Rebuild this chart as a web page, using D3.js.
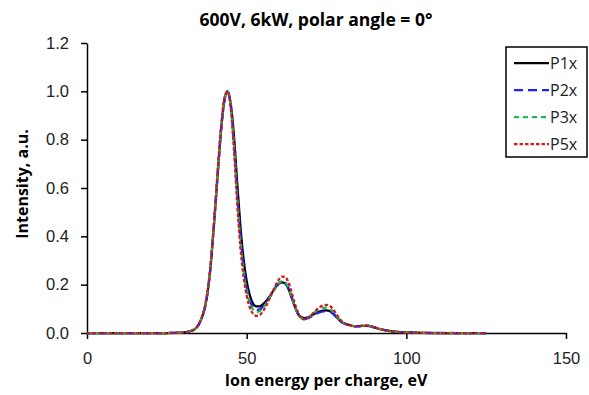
<!DOCTYPE html>
<html>
<head>
<meta charset="utf-8">
<script src="https://cdn.jsdelivr.net/npm/d3@7"></script>
<style>
  body { margin: 0; background: #fff; }
  svg { display: block; font-family: "Open Sans", "Liberation Sans", sans-serif; }
  .axis path, .axis line { stroke: #000; stroke-width: 1.5; }
  .axis text { font-size: 16.5px; fill: #222; }
</style>
</head>
<body>
<div id="chart"></div>
<script>
// énergies (eV) communes aux 4 séries
const energy = [0, 10, 20, 25, 30, 32, 34,
  35, 36, 37, 38, 39, 40, 41, 42, 43, 44, 45, 46, 47, 48, 49, 50, 51, 52, 53, 54, 55, 56, 57, 58, 59,
  60, 61, 62, 63, 64, 65, 66, 67, 68, 69, 70, 71, 72, 73, 74, 75, 76, 77, 78, 79, 80,
  82, 84, 86, 88, 90, 92, 94, 96, 98, 100, 105, 110, 115, 120, 125];

const p1x = [0, 0, 0, 0, 0.002, 0.006, 0.018,
  0.035, 0.065, 0.11, 0.19, 0.32, 0.49, 0.67, 0.84, 0.96, 1.0, 0.95, 0.82, 0.63, 0.45, 0.31, 0.215, 0.155, 0.122, 0.11, 0.11, 0.118, 0.13, 0.148, 0.168, 0.188,
  0.203, 0.21, 0.205, 0.185, 0.15, 0.112, 0.082, 0.066, 0.062, 0.064, 0.07, 0.078, 0.085, 0.09, 0.093, 0.094, 0.091, 0.082, 0.068, 0.054, 0.043,
  0.034, 0.028, 0.029, 0.03, 0.023, 0.015, 0.01, 0.006, 0.004, 0.003, 0.001, 0, 0, 0, 0];

const p2x = [0, 0, 0, 0, 0.002, 0.006, 0.018,
  0.035, 0.065, 0.11, 0.19, 0.32, 0.49, 0.67, 0.84, 0.96, 1.0, 0.94, 0.79, 0.59, 0.41, 0.28, 0.19, 0.135, 0.105, 0.095, 0.097, 0.108, 0.124, 0.144, 0.166, 0.188,
  0.205, 0.213, 0.208, 0.188, 0.152, 0.112, 0.08, 0.063, 0.058, 0.06, 0.066, 0.074, 0.081, 0.086, 0.089, 0.09, 0.088, 0.08, 0.067, 0.053, 0.042,
  0.033, 0.027, 0.028, 0.029, 0.022, 0.015, 0.01, 0.006, 0.004, 0.003, 0.001, 0.0005, 0, 0, 0];

const p3x = [0, 0, 0, 0, 0.002, 0.006, 0.018,
  0.036, 0.066, 0.112, 0.195, 0.325, 0.495, 0.68, 0.85, 0.965, 1.0, 0.94, 0.78, 0.57, 0.39, 0.26, 0.175, 0.125, 0.097, 0.087, 0.09, 0.102, 0.12, 0.142, 0.165, 0.188,
  0.206, 0.215, 0.21, 0.19, 0.155, 0.113, 0.08, 0.062, 0.058, 0.062, 0.071, 0.082, 0.093, 0.1, 0.104, 0.105, 0.101, 0.09, 0.073, 0.057, 0.045,
  0.034, 0.028, 0.03, 0.031, 0.023, 0.015, 0.01, 0.006, 0.004, 0.003, 0.001, 0, 0, 0, 0];

const p5x = [0, 0, 0, 0, 0.002, 0.006, 0.019,
  0.037, 0.068, 0.115, 0.2, 0.33, 0.5, 0.69, 0.86, 0.97, 1.0, 0.93, 0.76, 0.54, 0.36, 0.235, 0.155, 0.105, 0.08, 0.071, 0.074, 0.088, 0.11, 0.137, 0.167, 0.196,
  0.22, 0.233, 0.232, 0.212, 0.172, 0.125, 0.087, 0.064, 0.056, 0.06, 0.071, 0.085, 0.098, 0.108, 0.114, 0.116, 0.112, 0.1, 0.081, 0.061, 0.046,
  0.033, 0.027, 0.03, 0.032, 0.023, 0.015, 0.01, 0.006, 0.004, 0.002, 0.001, 0, 0, 0, 0];

const seriesNames = ["P1x", "P2x", "P3x", "P5x"];
const seriesColors = ["#000000", "#1f1fff", "#1db954", "#d01c1c"];
const seriesDash = [null, "9,5", "5,4", "3.5,2"];
const xTicks = [0, 50, 100, 150];
const yTicks = [0, 0.2, 0.4, 0.6, 0.8, 1.0, 1.2];

const W = 589, H = 395;
const margin = { top: 43, right: 23, bottom: 62, left: 87 };
const width = W - margin.left - margin.right;
const height = H - margin.top - margin.bottom;

const svg = d3.select("#chart").append("svg")
  .attr("width", W)
  .attr("height", H);

const g = svg.append("g")
  .attr("transform", `translate(${margin.left},${margin.top})`);

const x = d3.scaleLinear().domain([0, 150]).range([0, width]);
const y = d3.scaleLinear().domain([0, 1.2]).range([height, 0]);

// axes
g.append("g")
  .attr("class", "axis")
  .attr("transform", `translate(0,${height})`)
  .call(d3.axisBottom(x).tickValues(xTicks).tickSize(6).tickSizeOuter(0).tickPadding(13));

g.append("g")
  .attr("class", "axis")
  .call(d3.axisLeft(y).tickValues(yTicks).tickFormat(d3.format(".1f")).tickSize(6).tickSizeOuter(0).tickPadding(12));

g.selectAll(".axis .domain").attr("stroke-width", 2);

// séries
const series = [p1x, p2x, p3x, p5x].map((vals, i) => ({
  name: seriesNames[i],
  color: seriesColors[i],
  dash: seriesDash[i],
  values: energy.map((e, j) => ({ e, v: vals[j] }))
}));

const line = d3.line()
  .x(d => x(d.e))
  .y(d => y(d.v))
  .curve(d3.curveMonotoneX);

series.forEach(s => {
  g.append("path")
    .datum(s.values)
    .attr("fill", "none")
    .attr("stroke", s.color)
    .attr("stroke-width", 2.25)
    .attr("stroke-dasharray", s.dash)
    .attr("d", line);
});

// titre
svg.append("text")
  .attr("x", 316)
  .attr("y", 26)
  .attr("text-anchor", "middle")
  .attr("font-size", "17.5px")
  .attr("font-weight", "bold")
  .attr("fill", "#000")
  .text("600V, 6kW, polar angle = 0°");

svg.append("text")
  .attr("x", 326)
  .attr("y", 386)
  .attr("text-anchor", "middle")
  .attr("font-size", "16px")
  .attr("font-weight", "bold")
  .attr("fill", "#000")
  .text("Ion energy per charge, eV");

svg.append("text")
  .attr("transform", `translate(28,184) rotate(-90)`)
  .attr("text-anchor", "middle")
  .attr("font-size", "16px")
  .attr("font-weight", "bold")
  .attr("fill", "#000")
  .text("Intensity, a.u.");

// légende
const legend = svg.append("g").attr("transform", "translate(506,47)");
legend.append("rect")
  .attr("width", 81).attr("height", 110)
  .attr("fill", "#fff").attr("stroke", "#000").attr("stroke-width", 1.5);

series.forEach((s, i) => {
  const ly = 16 + i * 27;
  legend.append("line")
    .attr("x1", 8).attr("x2", 43)
    .attr("y1", ly).attr("y2", ly)
    .attr("stroke", s.color)
    .attr("stroke-width", 2.25)
    .attr("stroke-dasharray", s.dash);
  legend.append("text")
    .attr("x", 44).attr("y", ly)
    .attr("dy", "0.35em")
    .attr("font-size", "16px")
    .attr("fill", "#222")
    .text(s.name);
});
</script>
</body>
</html>
